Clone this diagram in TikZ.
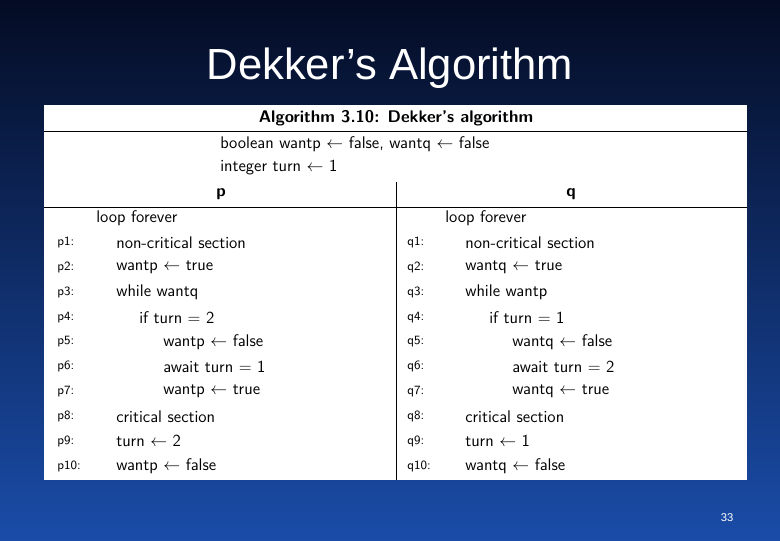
\documentclass[tikz,border=0pt]{standalone}
\usepackage{fontspec}
\newfontfamily\titlefont{Liberation Sans}
\usetikzlibrary{positioning}
\definecolor{slidetop}{HTML}{040C24}
\definecolor{slidebot}{HTML}{1A4CA8}
\begin{document}
\begin{tikzpicture}[
	x=0.025cm, y=-0.025cm,
	code/.style = {anchor=west, inner sep=0pt, font=\sffamily\fontsize{12}{14}\selectfont},
	lbl/.style = {anchor=west, inner sep=0pt, font=\sffamily\fontsize{9}{11}\selectfont},
	rule/.style = {draw=black, line width=0.6pt}
]
\shade[top color=slidetop, bottom color=slidebot] (0,0) rectangle (780,540);
\node[white, font=\titlefont\fontsize{31}{36}\selectfont] (title) at (390,68) {Dekker’s Algorithm};
\fill[white] (44,105) rectangle (747,480);
\node[code, anchor=center, font=\sffamily\bfseries\fontsize{12}{14}\selectfont] (head) at (396,118) {Algorithm 3.10: Dekker’s algorithm};
\draw[rule] (44,131) -- (747,131);
\node[code] (decl1) at (220,144) {boolean wantp $\leftarrow$ false, wantq $\leftarrow$ false};
\node[code] (decl2) at (220,168) {integer turn $\leftarrow$ 1};
\node[code, anchor=center, font=\sffamily\bfseries\fontsize{12}{14}\selectfont] (ph) at (221,194) {p};
\node[code, anchor=center, font=\sffamily\bfseries\fontsize{12}{14}\selectfont] (qh) at (571,194) {q};
\draw[rule] (44,207) -- (747,207);
\draw[rule] (396,182) -- (396,480);
% process p
\node[code] (ploop) at (96,218) {loop forever};
\foreach \n/\ind/\txt in {1/116/non-critical section, 2/116/wantp $\leftarrow$ true,
	3/116/while wantq, 4/139/if turn $=$ 2, 5/163/wantp $\leftarrow$ false,
	6/163/await turn $=$ 1, 7/163/wantp $\leftarrow$ true, 8/116/critical section,
	9/116/turn $\leftarrow$ 2, 10/116/wantp $\leftarrow$ false}{
	\node[lbl] (pl\n) at (57,218+24.8*\n) {p\n:};
	\node[code] (pc\n) at (\ind,218+24.8*\n) {\txt};
}
% process q
\node[code] (qloop) at (445,218) {loop forever};
\foreach \n/\ind/\txt in {1/465/non-critical section, 2/465/wantq $\leftarrow$ true,
	3/465/while wantp, 4/489/if turn $=$ 1, 5/512/wantq $\leftarrow$ false,
	6/512/await turn $=$ 2, 7/512/wantq $\leftarrow$ true, 8/465/critical section,
	9/465/turn $\leftarrow$ 1, 10/465/wantq $\leftarrow$ false}{
	\node[lbl] (ql\n) at (407,218+24.8*\n) {q\n:};
	\node[code] (qc\n) at (\ind,218+24.8*\n) {\txt};
}
\node[white, font=\titlefont\fontsize{8}{10}\selectfont] (page) at (727,518) {33};
\end{tikzpicture}
\end{document}
